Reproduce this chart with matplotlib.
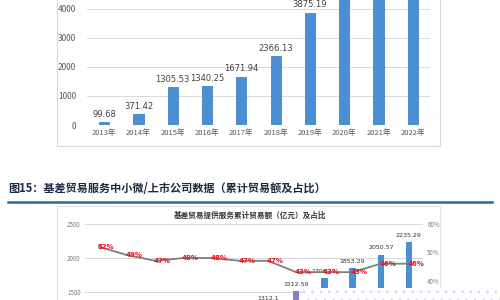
import matplotlib
matplotlib.use("Agg")
import matplotlib.pyplot as plt
from matplotlib.lines import Line2D
from matplotlib.patches import Rectangle

plt.rcParams['font.family'] = ['Noto Sans CJK SC', 'DejaVu Sans']
plt.rcParams['hatch.linewidth'] = 0.5

# top chart: yearly trade volume
years = ['2013年', '2014年', '2015年', '2016年', '2017年',
         '2018年', '2019年', '2020年', '2021年', '2022年']
volume = [99.68, 371.42, 1305.53, 1340.25, 1671.94,
          2366.13, 3875.19, 5300.0, 5900.0, 6400.0]

# bottom chart: cumulative trade volume and share
cum_volume = [420.0, 560.0, 700.0, 850.0, 1000.0, 1160.0,
              1312.1, 1512.59, 1706.11, 1853.29, 2050.57, 2235.29]
share = [52, 49, 47, 48, 48, 47, 47, 43, 43, 43, 46, 46]

W, H = 500, 300
fig = plt.figure(figsize=(5, 3), dpi=100)

def fx(px):
    return px / W

def fy(py):
    return 1 - py / H

# frames around the two charts
fig.add_artist(Rectangle((fx(57), fy(146)), fx(440 - 57), fy(-20) - fy(146),
                         fill=False, edgecolor='#d9d9d9', lw=0.8))
fig.add_artist(Rectangle((fx(57), fy(330)), fx(440 - 57), fy(206) - fy(330),
                         fill=False, edgecolor='#e0e0e0', lw=0.8))

# ---- top chart
ax = fig.add_axes([fx(87), fy(125), fx(343), fy(0) - fy(125)])
x = range(len(years))
ax.bar(x, volume, width=0.3, color='#4a8fd4', edgecolor='#3a78b8', lw=0.5, zorder=3)
for i, v in enumerate(volume):
    ax.text(i, v + 120, f'{v:.2f}', ha='center', va='bottom', fontsize=6,
            color='#404040', family='DejaVu Sans')
ax.set_ylim(0, 4310)
ax.set_xlim(-0.5, len(years) - 0.5)
ax.set_yticks([0, 1000, 2000, 3000, 4000])
ax.set_xticks(list(x))
ax.set_xticklabels(years, fontsize=5.5, color='#595959')
ax.tick_params(axis='y', labelsize=6, colors='#595959', length=0, pad=8)
ax.tick_params(axis='x', length=0, pad=3)
ax.grid(axis='y', color='#d9d9d9', lw=0.7, zorder=0)
for s in ax.spines.values():
    s.set_visible(False)

# ---- caption
fig.text(fx(8), fy(188), '图15：基差贸易服务中小微/上市公司数据（累计贸易额及占比）',
         fontsize=8, fontweight='bold', color='#1a2a40', va='center', ha='left')
fig.add_artist(Line2D([fx(8), fx(492)], [fy(202), fy(202)], color='#2a6a96', lw=1.8))

# ---- bottom chart
fig.text(fx(250), fy(215), '基差贸易提供服务累计贸易额（亿元）及占比',
         fontsize=5.5, fontweight='bold', color='#333333', ha='center', va='center')

ax2 = fig.add_axes([fx(85), fy(394), fx(338), fy(224) - fy(394)])
xb = range(len(cum_volume))
colors = ['#4a8fd4'] * len(cum_volume)
colors[7] = '#8e7cc3'
ax2.bar(xb, cum_volume, width=0.22, color=colors, zorder=3)
for i, v in enumerate(cum_volume):
    ax2.text(i, v + 60, f'{v:g}', ha='center', va='bottom', fontsize=4.5,
             color='#333333', family='DejaVu Sans', zorder=5)
ax2.set_ylim(0, 2500)
ax2.set_xlim(-0.5, len(cum_volume) - 0.5)
ax2.set_yticks([0, 500, 1000, 1500, 2000, 2500])
ax2.set_xticks([])
ax2.tick_params(axis='y', labelsize=4.5, colors='#7f7f7f', length=0, pad=3)
ax2.grid(axis='y', color='#d9d9d9', lw=0.7, zorder=0)
for s in ax2.spines.values():
    s.set_visible(False)

ax3 = ax2.twinx()
ax3.plot(list(xb), share, color='#7f7f7f', lw=1.3, zorder=4)
for i, p in enumerate(share):
    ax3.annotate(f'{p}%', (i, p), xytext=(5, 0), textcoords='offset points',
                 ha='center', va='center', fontsize=5, fontweight='bold',
                 color='#e8141e', family='DejaVu Sans', zorder=6)
ax3.set_ylim(0, 60)
ax3.set_yticks([0, 10, 20, 30, 40, 50, 60])
ax3.set_yticklabels([f'{t}%' for t in range(0, 70, 10)])
ax3.tick_params(axis='y', labelsize=4.5, colors='#7f7f7f', length=0, pad=3)
for s in ax3.spines.values():
    s.set_visible(False)

# dotted overlay strip at the bottom right
fig.add_artist(Rectangle((fx(303), fy(300)), fx(197), fy(288) - fy(300),
                         facecolor='white', edgecolor='#d6cfee', hatch='..',
                         lw=0, zorder=10))

fig.savefig('out.png', dpi=100)
